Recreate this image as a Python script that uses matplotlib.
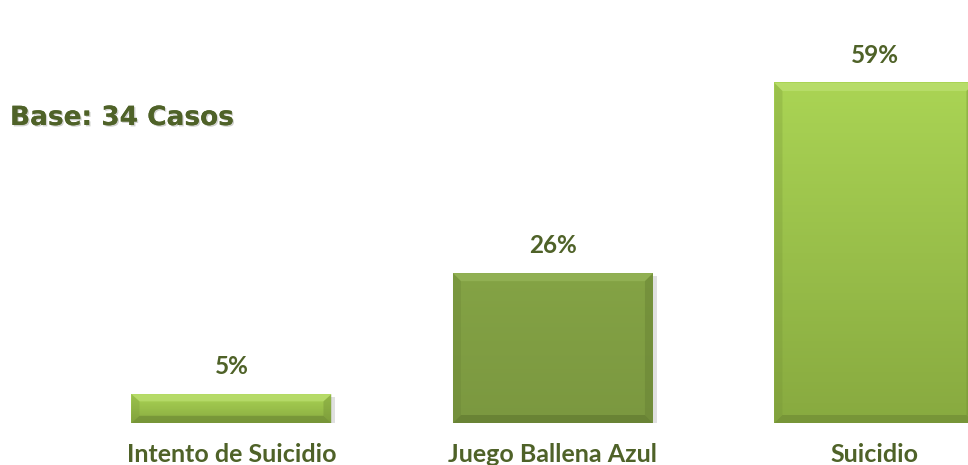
import matplotlib.pyplot as plt
import matplotlib.patheffects as pe
from matplotlib.patches import Polygon
from matplotlib.colors import LinearSegmentedColormap
import numpy as np

# datos
categorias = ["Intento de Suicidio", "Juego Ballena Azul", "Suicidio"]
porcentajes = [5, 26, 59]
etiquetas = ["5%", "26%", "59%"]
base_txt = "Base: 34 Casos"

verde_texto = "#4F6228"
# (arriba, abajo, bisel claro, bisel oscuro)
estilos = [
    ("#AAD454", "#88AA40", "#BDE072", "#708D35"),
    ("#84A345", "#7B9840", "#98B75A", "#627B31"),
    ("#AAD454", "#88AA40", "#BDE072", "#708D35"),
]

W, H = 968, 465
fig = plt.figure(figsize=(W / 100, H / 100), dpi=100)
ax = fig.add_axes([0, 42 / H, 1, 423 / H])
ax.set_xlim(-0.72, 2.291)
ax.set_ylim(0, 73.4)
ax.axis("off")

x = np.arange(len(categorias))
ancho = 0.622
barras = ax.bar(x, porcentajes, width=ancho, color="none", zorder=2)

# tamaño del bisel en unidades de datos
px_x = (2.291 + 0.72) / W
px_y = 73.4 / 423
b = 8

for barra, (c_top, c_bot, c_luz, c_som) in zip(barras, estilos):
    x0, y0 = barra.get_x(), barra.get_y()
    w, h = barra.get_width(), barra.get_height()
    x1, y1 = x0 + w, y0 + h
    bx, by = b * px_x, min(b * px_y, h / 4)

    # sombra
    ax.add_patch(Polygon([(x0 + 3 * px_x, y0 - 3 * px_y), (x1 + 4 * px_x, y0 - 3 * px_y),
                          (x1 + 4 * px_x, y1 - 3 * px_y), (x0 + 3 * px_x, y1 - 3 * px_y)],
                         closed=True, color="#000000", alpha=0.12, lw=0, zorder=1))

    # relleno con degradado
    cmap = LinearSegmentedColormap.from_list("g", [c_bot, c_top])
    grad = np.linspace(0, 1, 100).reshape(-1, 1)
    ax.imshow(grad, extent=(x0, x1, y0, y1), origin="lower", cmap=cmap,
              aspect="auto", zorder=2)

    # biseles
    arriba = [(x0, y1), (x1, y1), (x1 - bx, y1 - by), (x0 + bx, y1 - by)]
    abajo = [(x0, y0), (x1, y0), (x1 - bx, y0 + by), (x0 + bx, y0 + by)]
    izq = [(x0, y0), (x0, y1), (x0 + bx, y1 - by), (x0 + bx, y0 + by)]
    der = [(x1, y0), (x1, y1), (x1 - bx, y1 - by), (x1 - bx, y0 + by)]
    ax.add_patch(Polygon(arriba, closed=True, color=c_luz, lw=0, alpha=0.7, zorder=3))
    ax.add_patch(Polygon(abajo, closed=True, color=c_som, lw=0, alpha=0.7, zorder=3))
    ax.add_patch(Polygon(izq, closed=True, color=c_som, lw=0, alpha=0.25, zorder=3))
    ax.add_patch(Polygon(der, closed=True, color=c_som, lw=0, alpha=0.4, zorder=3))

    ax.set_xlim(-0.72, 2.291)
    ax.set_ylim(0, 73.4)

# etiquetas de porcentaje
for xi, v, et in zip(x, porcentajes, etiquetas):
    ax.annotate(et, xy=(xi, v), xytext=(0, 16), textcoords="offset pixels",
                ha="center", va="bottom", fontsize=17.5, fontweight="bold",
                family="Lato", color=verde_texto)

# categorias
for xi, cat in zip(x, categorias):
    ax.annotate(cat, xy=(xi, 0), xytext=(0, -31), textcoords="offset pixels",
                ha="center", va="center", fontsize=18, fontweight="bold",
                family="Lato", color=verde_texto, annotation_clip=False)

fig.text(10 / W, 1 - 118 / H, base_txt, ha="left", va="center", fontsize=19,
         fontweight="bold", family="DejaVu Sans", color=verde_texto,
         path_effects=[pe.withSimplePatchShadow(offset=(1, -1), alpha=0.2),
                       pe.Normal()])

fig.savefig("out.png", dpi=100, facecolor="white")
